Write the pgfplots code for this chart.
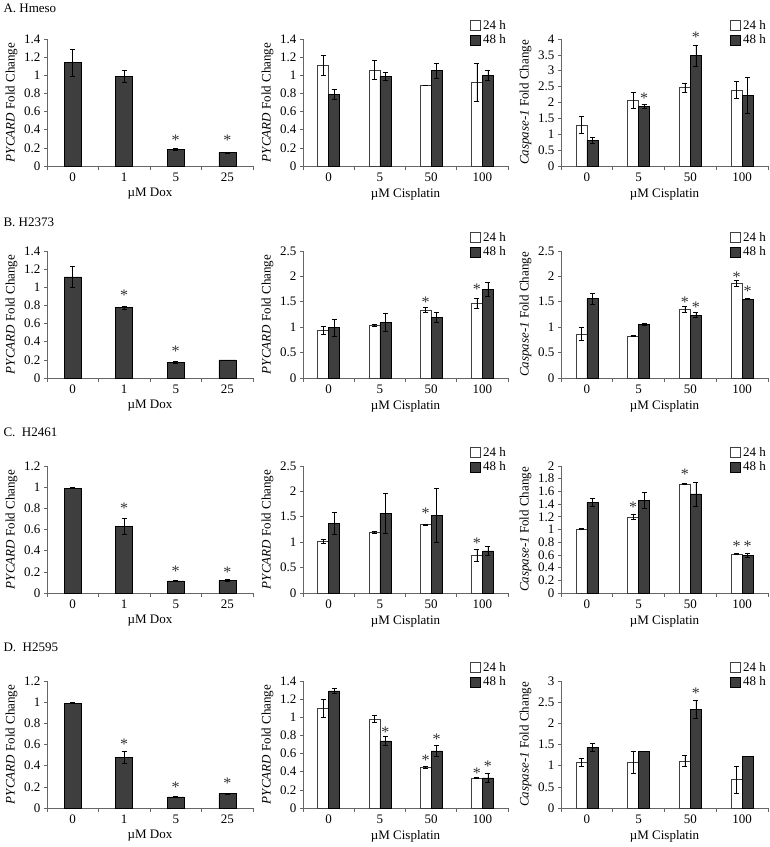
\documentclass[border=0pt]{standalone}
\usepackage{pgfplots}
\pgfplotsset{compat=1.18}
\usepackage{fontspec}
\setmainfont{Liberation Serif}
\definecolor{bardark}{RGB}{62,62,62}
\newcommand{\fsz}{\fontsize{13}{15}\selectfont}

\pgfplotsset{
  panel/.style={
    scale only axis, height=127pt, anchor=south west,
    axis x line=bottom, axis y line=left,
    axis line style={-, black!60, line width=0.6pt},
    xmin=-0.5, xmax=3.5, ymin=0,
    xtick={0,1,2,3},
    minor xtick={-0.5,0.5,1.5,2.5,3.5},
    major x tick style={draw=none},
    minor x tick style={black!60, line width=0.6pt},
    y tick style={black!60, line width=0.6pt},
    tick align=outside, major tick length=3pt, minor tick length=4pt,
    tick label style={font=\fsz},
    label style={font=\fsz},
    /pgf/number format/assume math mode=true,
    yticklabel style={/pgf/number format/fixed},
    clip=false,
    legend style={at={(1,1)}, anchor=north east, xshift=3pt, yshift=23pt,
      draw=none, fill=none, font=\fsz, row sep=0pt, legend cell align=left},
  },
  sqleg/.style={legend image code/.code={%
    \draw[##1,/tikz/.cd,line width=0.7pt] (0pt,-5pt) rectangle (10pt,5pt);}},
  errb/.style={/pgfplots/error bars/y dir=both, /pgfplots/error bars/y explicit,
    /pgfplots/error bars/error bar style={line width=0.6pt, black},
    /pgfplots/error bars/error mark options={rotate=90, mark size=2.5pt, line width=0.6pt, black}},
  bone/.style={ybar, bar width=17pt, bar shift=0pt, fill=bardark, draw=black, line width=0.5pt, errb},
  % 24 h bars sit at category - 0.107, 48 h bars at category + 0.107 (half a bar width)
  btwo/.style={ybar, bar width=11pt, bar shift=0pt, fill=white, draw=black!75, line width=0.5pt, sqleg, errb},
  bfour/.style={ybar, bar width=11pt, bar shift=0pt, fill=bardark, draw=black, line width=0.5pt, sqleg, errb},
  stars/.style={only marks, mark=text, text mark={*}, text mark as node=true,
    text mark style={font=\fontsize{16}{16}\selectfont, text=black!80, yshift=-3pt}, forget plot},
}

\begin{document}
\begin{tikzpicture}
\useasboundingbox (0pt,0pt) rectangle (770pt,847pt);

\node[anchor=west, font=\fsz] at (0pt,839pt) {A. Hmeso};
\node[anchor=west, font=\fsz] at (0pt,625pt) {B. H2373};
\node[anchor=west, font=\fsz] at (0pt,415pt) {C.\ \ H2461};
\node[anchor=west, font=\fsz] at (0pt,200pt) {D.\ \ H2595};

% ---------- row A ----------
\begin{axis}[panel, at={(47pt,681pt)}, width=206pt, ymax=1.4, ytick distance=0.2,
  xticklabels={0,1,5,25}, xlabel={µM Dox}, ylabel={\textit{PYCARD} Fold Change}]
\addplot[bone] coordinates {(0,1.14)+-(0,0.15) (1,0.99)+-(0,0.07) (2,0.18)+-(0,0.01) (3,0.15)+-(0,0.005)};
\addplot[stars] coordinates {(2,0.32) (3,0.32)};
\end{axis}

\begin{axis}[panel, at={(303pt,681pt)}, width=205pt, ymax=1.4, ytick distance=0.2,
  xticklabels={0,5,50,100}, xlabel={µM Cisplatin}, ylabel={\textit{PYCARD} Fold Change}]
\addplot[btwo] coordinates {(-0.107,1.11)+-(0,0.11) (0.893,1.06)+-(0,0.1) (1.893,0.89)+-(0,0.005) (2.893,0.92)+-(0,0.21)};
\addplot[bfour] coordinates {(0.107,0.79)+-(0,0.05) (1.107,0.99)+-(0,0.04) (2.107,1.05)+-(0,0.08) (3.107,1.0)+-(0,0.06)};
\legend{24 h, 48 h}
\end{axis}

\begin{axis}[panel, at={(561pt,681pt)}, width=207pt, ymax=4, ytick distance=0.5,
  xticklabels={0,5,50,100}, xlabel={µM Cisplatin}, ylabel={\textit{Caspase-1} Fold Change}]
\addplot[btwo] coordinates {(-0.107,1.29)+-(0,0.27) (0.893,2.07)+-(0,0.25) (1.893,2.47)+-(0,0.15) (2.893,2.39)+-(0,0.27)};
\addplot[bfour] coordinates {(0.107,0.81)+-(0,0.09) (1.107,1.88)+-(0,0.06) (2.107,3.48)+-(0,0.33) (3.107,2.22)+-(0,0.57)};
\addplot[stars] coordinates {(1.107,2.23) (2.107,4.16)};
\legend{24 h, 48 h}
\end{axis}

% ---------- row B ----------
\begin{axis}[panel, at={(47pt,469pt)}, width=206pt, ymax=1.4, ytick distance=0.2,
  xticklabels={0,1,5,25}, xlabel={µM Dox}, ylabel={\textit{PYCARD} Fold Change}]
\addplot[bone] coordinates {(0,1.115)+-(0,0.12) (1,0.775)+-(0,0.015) (2,0.17)+-(0,0.01) (3,0.2)+-(0,0)};
\addplot[stars] coordinates {(1,0.94) (2,0.325)};
\end{axis}

\begin{axis}[panel, at={(303pt,469pt)}, width=205pt, ymax=2.5, ytick distance=0.5,
  xticklabels={0,5,50,100}, xlabel={µM Cisplatin}, ylabel={\textit{PYCARD} Fold Change}]
\addplot[btwo] coordinates {(-0.107,0.94)+-(0,0.07) (0.893,1.04)+-(0,0.02) (1.893,1.34)+-(0,0.05) (2.893,1.47)+-(0,0.1)};
\addplot[bfour] coordinates {(0.107,0.99)+-(0,0.17) (1.107,1.09)+-(0,0.18) (2.107,1.2)+-(0,0.1) (3.107,1.75)+-(0,0.14)};
\addplot[stars] coordinates {(1.893,1.55) (2.893,1.81)};
\legend{24 h, 48 h}
\end{axis}

\begin{axis}[panel, at={(561pt,469pt)}, width=207pt, ymax=2.5, ytick distance=0.5,
  xticklabels={0,5,50,100}, xlabel={µM Cisplatin}, ylabel={\textit{Caspase-1} Fold Change}]
\addplot[btwo] coordinates {(-0.107,0.87)+-(0,0.12) (0.893,0.83)+-(0,0.01) (1.893,1.36)+-(0,0.06) (2.893,1.86)+-(0,0.06)};
\addplot[bfour] coordinates {(0.107,1.56)+-(0,0.1) (1.107,1.06)+-(0,0.02) (2.107,1.24)+-(0,0.05) (3.107,1.55)+-(0,0.01)};
\addplot[stars] coordinates {(1.893,1.55) (2.107,1.46) (2.893,2.05) (3.107,1.76)};
\legend{24 h, 48 h}
\end{axis}

% ---------- row C ----------
\begin{axis}[panel, at={(47pt,254pt)}, width=206pt, ymax=1.2, ytick distance=0.2,
  xticklabels={0,1,5,25}, xlabel={µM Dox}, ylabel={\textit{PYCARD} Fold Change}]
\addplot[bone] coordinates {(0,0.99)+-(0,0.005) (1,0.63)+-(0,0.08) (2,0.114)+-(0,0.005) (3,0.12)+-(0,0.01)};
\addplot[stars] coordinates {(1,0.83) (2,0.23) (3,0.22)};
\end{axis}

\begin{axis}[panel, at={(303pt,254pt)}, width=205pt, ymax=2.5, ytick distance=0.5,
  xticklabels={0,5,50,100}, xlabel={µM Cisplatin}, ylabel={\textit{PYCARD} Fold Change}]
\addplot[btwo] coordinates {(-0.107,1.02)+-(0,0.04) (0.893,1.19)+-(0,0.02) (1.893,1.35)+-(0,0.01) (2.893,0.75)+-(0,0.12)};
\addplot[bfour] coordinates {(0.107,1.37)+-(0,0.22) (1.107,1.57)+-(0,0.4) (2.107,1.53)+-(0,0.53) (3.107,0.83)+-(0,0.09)};
\addplot[stars] coordinates {(1.893,1.63) (2.893,1.03)};
\legend{24 h, 48 h}
\end{axis}

\begin{axis}[panel, at={(561pt,254pt)}, width=207pt, ymax=2, ytick distance=0.2,
  xticklabels={0,5,50,100}, xlabel={µM Cisplatin}, ylabel={\textit{Caspase-1} Fold Change}]
\addplot[btwo] coordinates {(-0.107,1.01)+-(0,0.01) (0.893,1.2)+-(0,0.04) (1.893,1.72)+-(0,0.005) (2.893,0.616)+-(0,0.01)};
\addplot[bfour] coordinates {(0.107,1.43)+-(0,0.065) (1.107,1.46)+-(0,0.12) (2.107,1.56)+-(0,0.19) (3.107,0.59)+-(0,0.03)};
\addplot[stars] coordinates {(0.893,1.4) (1.893,1.91) (2.893,0.78) (3.107,0.78)};
\legend{24 h, 48 h}
\end{axis}

% ---------- row D ----------
\begin{axis}[panel, at={(47pt,39pt)}, width=206pt, ymax=1.2, ytick distance=0.2,
  xticklabels={0,1,5,25}, xlabel={µM Dox}, ylabel={\textit{PYCARD} Fold Change}]
\addplot[bone] coordinates {(0,0.99)+-(0,0.005) (1,0.48)+-(0,0.055) (2,0.105)+-(0,0.005) (3,0.136)+-(0,0.003)};
\addplot[stars] coordinates {(1,0.63) (2,0.22) (3,0.26)};
\end{axis}

\begin{axis}[panel, at={(303pt,39pt)}, width=205pt, ymax=1.4, ytick distance=0.2,
  xticklabels={0,5,50,100}, xlabel={µM Cisplatin}, ylabel={\textit{PYCARD} Fold Change}]
\addplot[btwo] coordinates {(-0.107,1.1)+-(0,0.1) (0.893,0.98)+-(0,0.04) (1.893,0.45)+-(0,0.01) (2.893,0.333)+-(0,0.003)};
\addplot[bfour] coordinates {(0.107,1.29)+-(0,0.027) (1.107,0.74)+-(0,0.05) (2.107,0.63)+-(0,0.06) (3.107,0.333)+-(0,0.055)};
\addplot[stars] coordinates {(1.107,0.87) (1.893,0.56) (2.107,0.79) (2.893,0.42) (3.107,0.49)};
\legend{24 h, 48 h}
\end{axis}

\begin{axis}[panel, at={(561pt,39pt)}, width=207pt, ymax=3, ytick distance=0.5,
  xticklabels={0,5,50,100}, xlabel={µM Cisplatin}, ylabel={\textit{Caspase-1} Fold Change}]
\addplot[btwo] coordinates {(-0.107,1.08)+-(0,0.1) (0.893,1.08)+-(0,0.27) (1.893,1.11)+-(0,0.13) (2.893,0.67)+-(0,0.32)};
\addplot[bfour] coordinates {(0.107,1.43)+-(0,0.1) (1.107,1.34)+-(0,0.01) (2.107,2.33)+-(0,0.22) (3.107,1.22)+-(0,0.01)};
\addplot[stars] coordinates {(2.107,2.78)};
\legend{24 h, 48 h}
\end{axis}
\end{tikzpicture}
\end{document}
